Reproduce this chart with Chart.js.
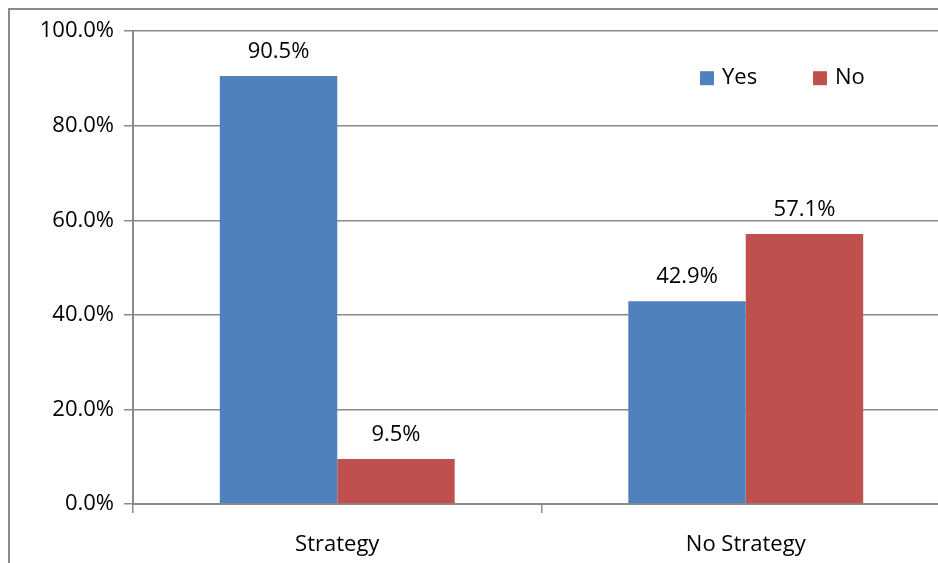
<!DOCTYPE html>
<html lang="en">
<head>
<meta charset="UTF-8" />
<title>Strategy bar chart</title>
<script src="https://cdn.jsdelivr.net/npm/chart.js@4"></script>
<style>
    * { margin: 0; padding: 0; box-sizing: border-box; }
    html, body { width: 938px; height: 563px; overflow: hidden; background: #fff; }
    .frame {
        position: absolute;
        left: 8px;
        top: 8px;
        width: 960px;
        height: 580px;
        border-left: 2px solid #8a8a8a;
        border-top: 2px solid #8a8a8a;
    }
    .chart-box {
        position: absolute;
        left: 10px;
        top: 8px;
        width: 940px;
        height: 555px;
    }
</style>
</head>
<body>
<div class="frame"></div>
<div class="chart-box"><canvas id="chart"></canvas></div>
<script>
const categories = ["Strategy", "No Strategy"];
const seriesNames = ["Yes", "No"];
const yesValues = [90.5, 42.9];
const noValues = [9.5, 57.1];
const yTicks = [0, 20, 40, 60, 80, 100];

const FONT = "'Open Sans', Lato, sans-serif";
const FONT_SIZE = 22;
const GRID = "#8a8a8a";

// value labels above each bar
const barLabels = {
    id: "barLabels",
    afterDatasetsDraw(chart) {
        const ctx = chart.ctx;
        ctx.save();
        ctx.font = FONT_SIZE + "px " + FONT;
        ctx.fillStyle = "#000";
        ctx.textAlign = "center";
        ctx.textBaseline = "bottom";
        chart.data.datasets.forEach((ds, i) => {
            chart.getDatasetMeta(i).data.forEach((bar, j) => {
                ctx.fillText(ds.data[j].toFixed(1) + "%", bar.x, bar.y - 13);
            });
        });
        ctx.restore();
    },
};

// legend drawn inside the plot, top right
const innerLegend = {
    id: "innerLegend",
    afterDraw(chart) {
        const ctx = chart.ctx;
        const area = chart.chartArea;
        ctx.save();
        ctx.font = FONT_SIZE + "px " + FONT;
        ctx.textBaseline = "middle";
        ctx.textAlign = "left";
        const y = area.top + 47;
        const xs = [area.left + 567, area.left + 680];
        chart.data.datasets.forEach((ds, i) => {
            ctx.fillStyle = ds.backgroundColor;
            ctx.fillRect(xs[i], y - 7, 14, 14);
            ctx.fillStyle = "#000";
            ctx.fillText(ds.label, xs[i] + 22, y);
        });
        ctx.restore();
    },
};

new Chart(document.getElementById("chart"), {
    type: "bar",
    data: {
        labels: categories,
        datasets: [
            { label: seriesNames[0], data: yesValues, backgroundColor: "#4f81bd" },
            { label: seriesNames[1], data: noValues, backgroundColor: "#c0504d" },
        ],
    },
    options: {
        responsive: true,
        maintainAspectRatio: false,
        animation: false,
        layout: { padding: { top: 18, right: 0, bottom: 0, left: 0 } },
        datasets: { bar: { categoryPercentage: 0.575, barPercentage: 1 } },
        plugins: { legend: { display: false }, tooltip: { enabled: false } },
        scales: {
            x: {
                afterFit(scale) { scale.height = 59; },
                grid: {
                    offset: true,
                    drawOnChartArea: false,
                    drawTicks: true,
                    tickLength: 9,
                    color: GRID,
                    lineWidth: 1.5,
                },
                border: { color: GRID, width: 2 },
                ticks: {
                    color: "#000",
                    font: { family: FONT, size: FONT_SIZE },
                    padding: 19,
                },
            },
            y: {
                min: 0,
                max: 100,
                afterFit(scale) { scale.width = 123; },
                afterBuildTicks(scale) {
                    scale.ticks = yTicks.map((v) => ({ value: v }));
                },
                grid: {
                    color: GRID,
                    lineWidth: 1.5,
                    tickLength: 9,
                },
                border: { color: GRID, width: 2 },
                ticks: {
                    color: "#000",
                    font: { family: FONT, size: FONT_SIZE },
                    padding: 10,
                    callback: (v) => v.toFixed(1) + "%",
                },
            },
        },
    },
    plugins: [barLabels, innerLegend],
});
</script>
</body>
</html>
